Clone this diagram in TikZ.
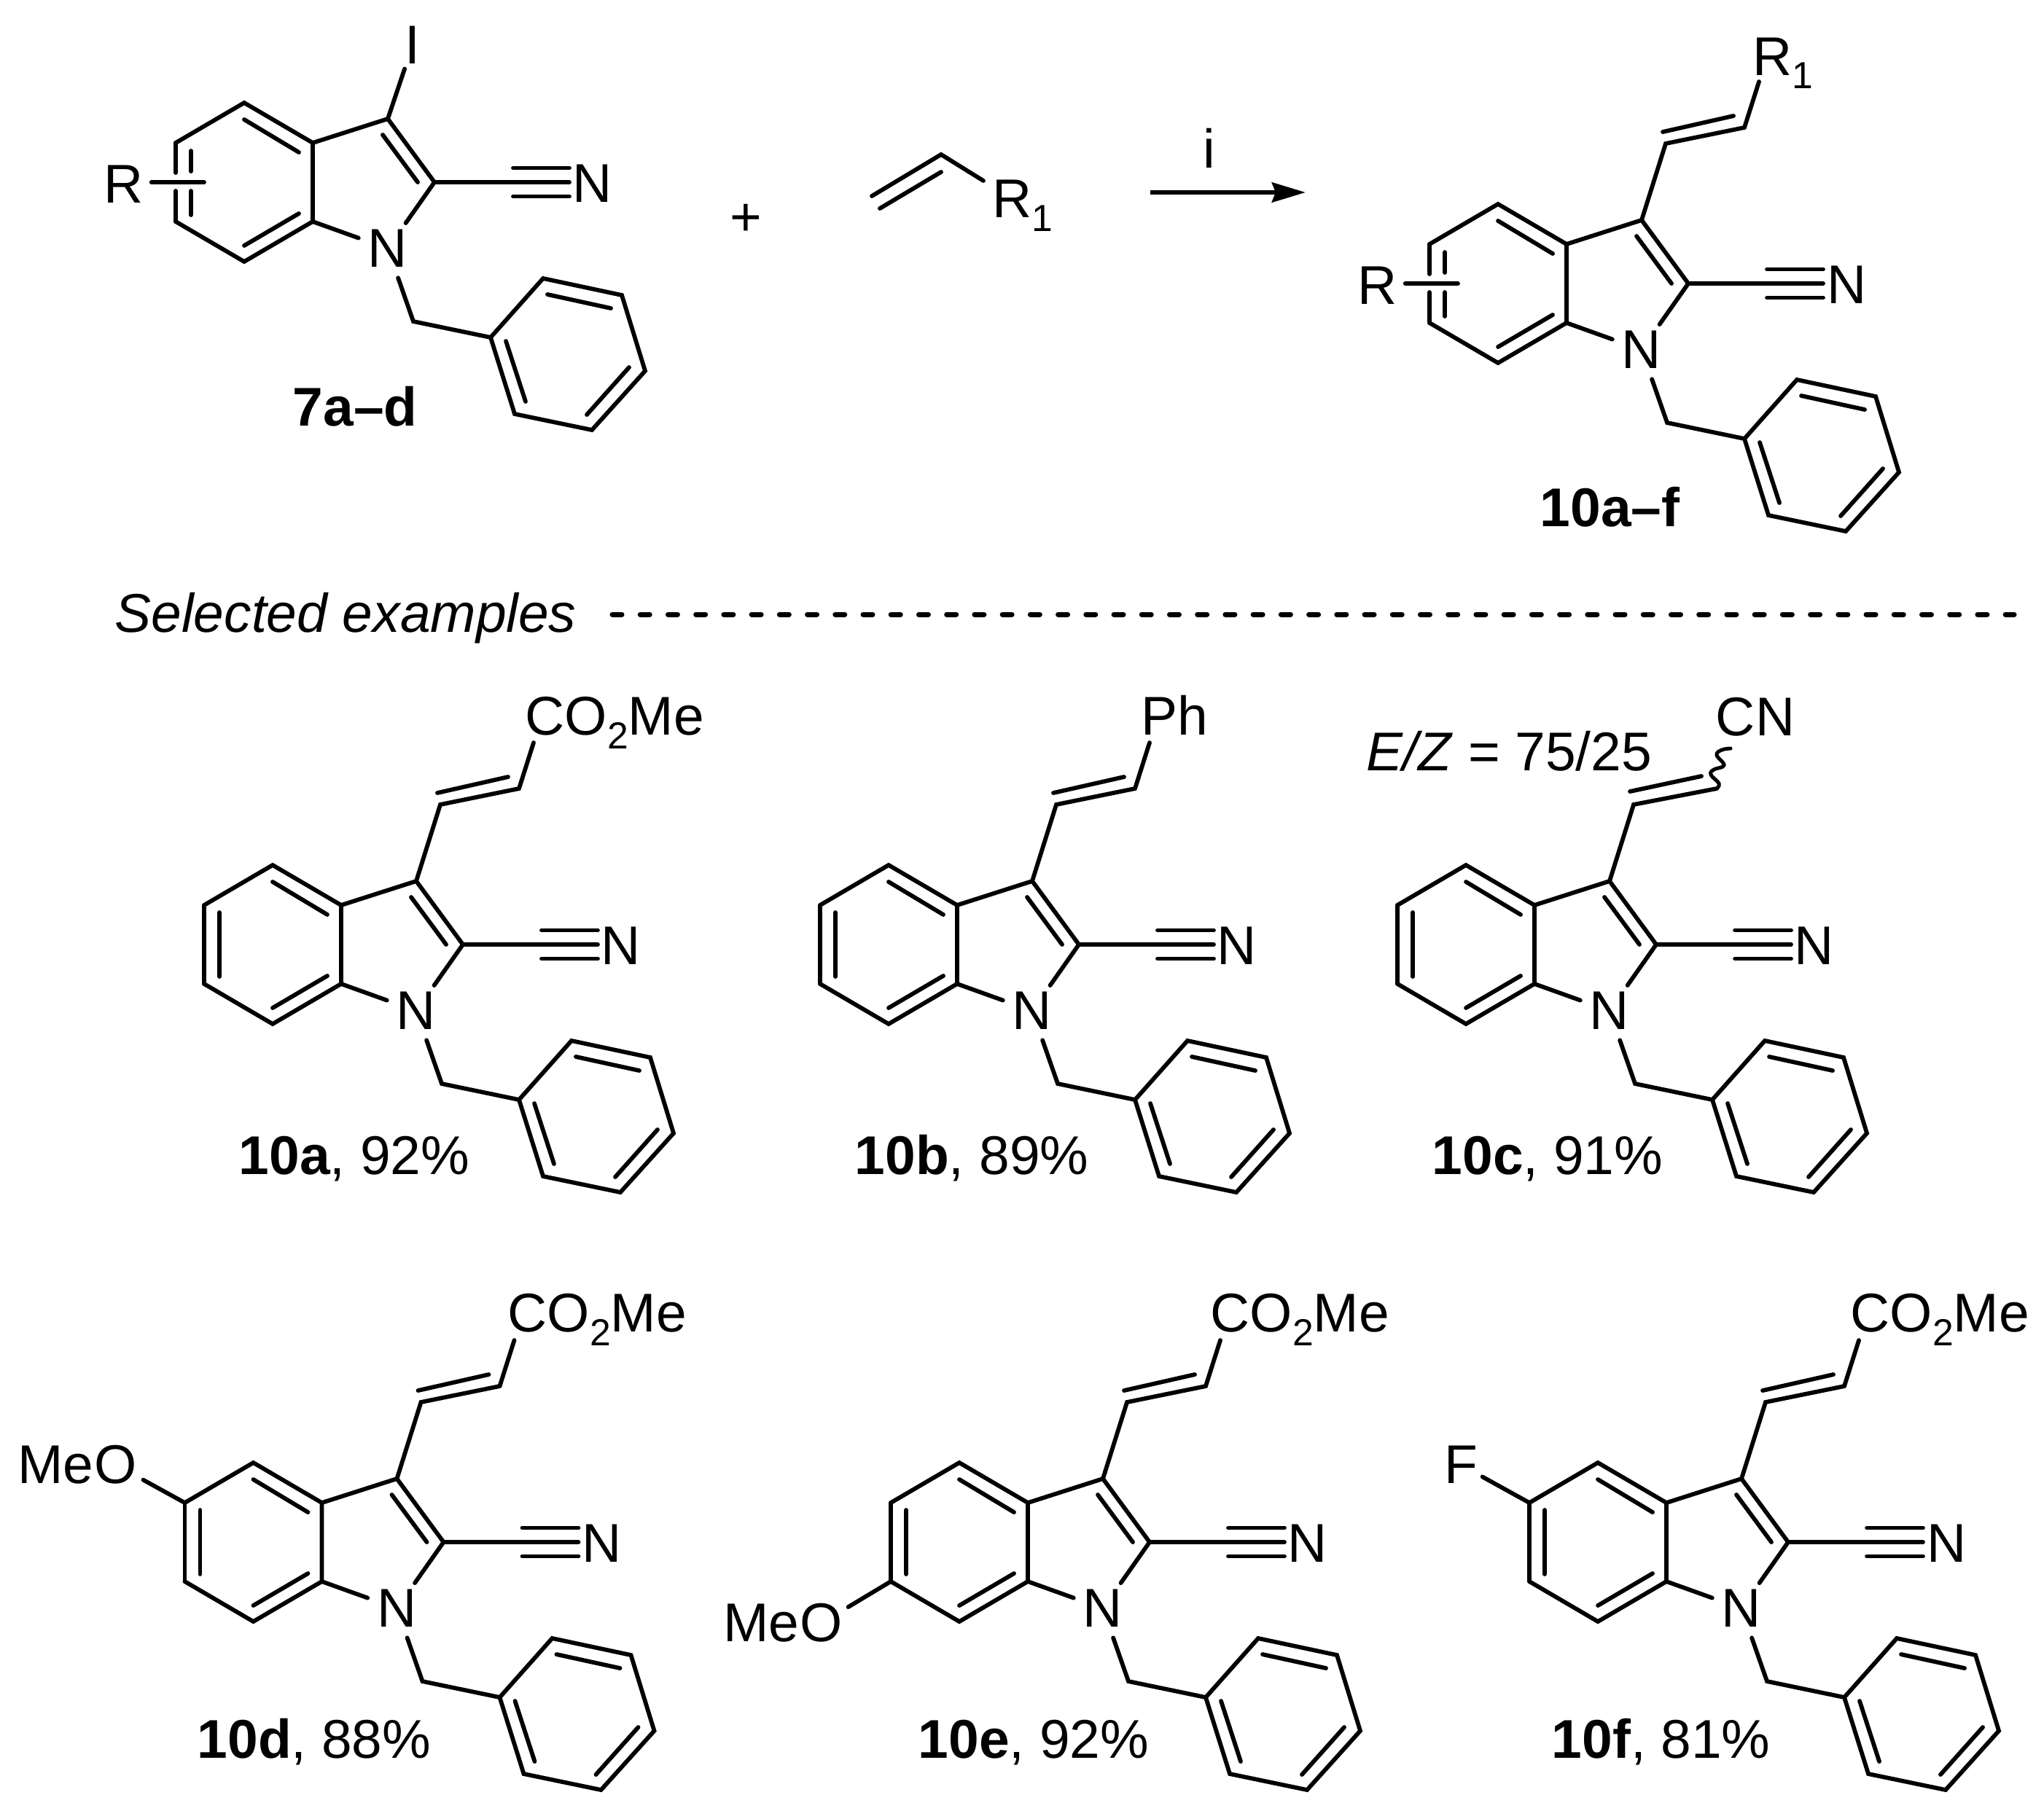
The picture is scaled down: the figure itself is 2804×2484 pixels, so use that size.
\documentclass[tikz,border=0pt]{standalone}
\usepackage{fontspec}
\setmainfont{Liberation Sans}
\usetikzlibrary{positioning,calc,arrows.meta}
\newcommand{\subs}[1]{\raisebox{-5.4pt}{\fontsize{14.7}{16}\selectfont #1}}
\tikzstyle{bond} = [draw, line width=0.58mm, line cap=round, line join=miter]
\tikzstyle{atom} = [circle, inner sep=0pt, minimum size=0.84cm]
\tikzstyle{lab} = [inner sep=0.06cm]
\tikzstyle{txt} = [inner sep=0pt, anchor=base west]
\tikzstyle{dashline} = [draw, line width=0.7mm, line cap=round, dash pattern=on 1.3mm off 2.52mm]
\tikzstyle{line} = [draw, line width=0.65mm, -{Stealth[length=4.6mm, width=2.7mm, inset=0.5mm]}]
\tikzset{
   indole/.pic={
      % Ring atoms
      \coordinate (c3a) at (94,-54);
      \coordinate (c4) at (0,-109);
      \coordinate (c5) at (-94,-54);
      \coordinate (c6) at (-94,54);
      \coordinate (c7) at (0,109);
      \coordinate (c7a) at (94,54);
      \coordinate (c3) at (197,-87);
      \coordinate (c2) at (261,0);
      \coordinate (ch2) at (232,191);
      \node[atom] (n1) at (197,91) {N};
      \node[lab] (n2) at (478,2) {N};
      % Phenyl atoms
      \coordinate (p1) at (338,213);
      \coordinate (p2) at (410,132);
      \coordinate (p3) at (518,155);
      \coordinate (p4) at (550,259);
      \coordinate (p5) at (477,340);
      \coordinate (p6) at (371,318);
      % Skeleton
      \path [bond] (c6) -- (c7) -- (c7a) -- (c3a) -- (c4) -- (c5);
      \path [bond] (c3a) -- (c3) -- (c2);
      \path [bond] (c7a) -- (n1);
      \path [bond] (c2) -- (n1);
      \path [bond] (n1) -- (ch2) -- (p1);
      \path [bond] (p1) -- (p2) -- (p3) -- (p4) -- (p5) -- (p6) -- cycle;
      % Inner lines
      \path [bond] (0,-86) -- (75,-41);
      \path [bond] (75,43) -- (0,87);
      \path [bond] (190,-65) -- (238,0);
      \path [bond] (416,154) -- (503,173);
      \path [bond] (528,254) -- (470,319);
      \path [bond] (386,301) -- (359,218);
      % Nitrile
      \coordinate (cn) at (446,0);
      \path [bond] (c2) -- (cn);
      \path [bond] (369,-19.5) -- (446,-19.5);
      \path [bond] (369,19.5) -- (446,19.5);
   },
   leftside/.pic={
      \path [bond] (c5) -- (c6);
      \path [bond] (-73,-44) -- (-73,44);
   },
   brokenside/.pic={
      \node[lab, inner xsep=0.1cm] (r) at (-165,3) {R};
      \coordinate (rend) at (-55,0);
      \path [bond] (r.east |- rend) -- (rend);
      \path [bond] (c5) -- (-94,-13);
      \path [bond] (-94,12) -- (c6);
      \path [bond] (-73,-43) -- (-73,-15);
      \path [bond] (-73,12) -- (-73,45);
   },
   vinyl/.pic={
      \coordinate (v1) at (230,-192);
      \coordinate (v2) at (338,-214);
      \coordinate (vend) at (358,-277);
      \path [bond] (c3) -- (v1) -- (v2);
      \path [bond] (226,-208) -- (323,-230);
   }
}

\begin{document}
\begin{tikzpicture}[x=0.01cm, y=-0.01cm, font=\fontsize{21.3}{26}\selectfont]
   \useasboundingbox (0,0) rectangle (2804,2484);

   % REACTION %%%%%%%%%%%%%%%%%%%%%%%%%%%%%%%%%%%%%%%%%%%%%%%%%%
   \pic (s-) at (335,250) {indole};
   \pic (s-) at (335,250) {brokenside};
   \node[lab] (iodo) at (566,62) {I};
   \path [bond] (s-c3) -- (iodo);
   \node[txt] (name7) at (401,584) {\textbf{7a--d}};

   \node (plus) at (1023,302) {+};

   % Alkene
   \coordinate (vi1) at (1196,269);
   \coordinate (vi2) at (1291,212);
   \coordinate (vi3) at (1349,248);
   \coordinate (vi4) at (1207,286);
   \coordinate (vi5) at (1291,236);
   \path [bond] (vi1) -- (vi2) -- (vi3);
   \path [bond] (vi4) -- (vi5);
   \node[txt] (alkener) at (1361,298) {R\subs{1}};

   % Arrow
   \node (reagent) at (1659,203) {i};
   \coordinate (arrowstart) at (1578,264);
   \coordinate (arrowend) at (1791,264);
   \path [line] (arrowstart) -- (arrowend);

   \pic (p-) at (2055,389) {indole};
   \pic (p-) at (2055,389) {brokenside};
   \pic (p-) at (2055,389) {vinyl};
   \path [bond] (p-v2) -- (p-vend);
   \node[txt] (productr) at (2404,103) {R\subs{1}};
   \node[txt] (name10) at (2112,722) {\textbf{10a--f}};

   % SEPARATOR %%%%%%%%%%%%%%%%%%%%%%%%%%%%%%%%%%%%%%%%%%%%%%%%%%
   \node[txt] (selected) at (157,867) {\textit{Selected examples}};
   \coordinate (dashstart) at (840,843);
   \coordinate (dashend) at (2763,843);
   \path [dashline] (dashstart) -- (dashend);

   % FIRST ROW %%%%%%%%%%%%%%%%%%%%%%%%%%%%%%%%%%%%%%%%%%%%%%%%%%
   \pic (a-) at (374,1296) {indole};
   \pic (a-) at (374,1296) {leftside};
   \pic (a-) at (374,1296) {vinyl};
   \path [bond] (a-v2) -- (a-vend);
   \node[txt] (a-ester) at (720,1008) {CO\subs{2}Me};
   \node[txt] (a-name) at (327,1611) {\textbf{10a}, 92\%};

   \pic (b-) at (1219,1296) {indole};
   \pic (b-) at (1219,1296) {leftside};
   \pic (b-) at (1219,1296) {vinyl};
   \path [bond] (b-v2) -- (b-vend);
   \node[txt] (b-ph) at (1565,1008) {Ph};
   \node[txt] (b-name) at (1172,1611) {\textbf{10b}, 89\%};

   \pic (c-) at (2011,1296) {indole};
   \pic (c-) at (2011,1296) {leftside};
   \coordinate (c-v1) at (2241,1104);
   \coordinate (c-v2) at (2355,1082);
   \coordinate (c-wave) at (2374,1027);
   \path [bond] (c-c3) -- (c-v1) -- (c-v2);
   \path [bond] (2236,1086) -- (2334,1065);
   % Wavy bond
   \draw [line width=0.5mm, line cap=round] plot [smooth, tension=0.7] coordinates
      {(c-v2) (2358,1075) (2347,1063) (2351,1056) (2365,1050) (2355,1036) (2362,1029) (c-wave)};
   \node (c-cn) at (2408,984) {CN};
   \node[txt] (c-ratio) at (1874,1057) {\textit{E/Z} = 75/25};
   \node[txt] (c-name) at (1964,1611) {\textbf{10c}, 91\%};

   % SECOND ROW %%%%%%%%%%%%%%%%%%%%%%%%%%%%%%%%%%%%%%%%%%%%%%%%%%
   \pic (d-) at (347.5,2116) {indole};
   \pic (d-) at (347.5,2116) {leftside};
   \pic (d-) at (347.5,2116) {vinyl};
   \path [bond] (d-v2) -- (d-vend);
   \node[txt] (d-ester) at (696,1827) {CO\subs{2}Me};
   \node[atom] (d-o) at (159,2010) {O};
   \node[txt, anchor=base east, xshift=-0.3cm] (d-me) at (d-o.base) {Me};
   \path [bond] (d-c5) -- (d-o);
   \node[txt] (d-name) at (270,2412) {\textbf{10d}, 88\%};

   \pic (e-) at (1316,2116) {indole};
   \pic (e-) at (1316,2116) {leftside};
   \pic (e-) at (1316,2116) {vinyl};
   \path [bond] (e-v2) -- (e-vend);
   \node[txt] (e-ester) at (1660,1827) {CO\subs{2}Me};
   \node[atom] (e-o) at (1127,2227) {O};
   \node[txt, anchor=base east, xshift=-0.3cm] (e-me) at (e-o.base) {Me};
   \path [bond] (e-c6) -- (e-o);
   \node[txt] (e-name) at (1259,2412) {\textbf{10e}, 92\%};

   \pic (f-) at (2192,2116) {indole};
   \pic (f-) at (2192,2116) {leftside};
   \pic (f-) at (2192,2116) {vinyl};
   \path [bond] (f-v2) -- (f-vend);
   \node[txt] (f-ester) at (2538,1827) {CO\subs{2}Me};
   \node[lab] (f-f) at (2004,2010) {F};
   \path [bond] (f-c5) -- (f-f);
   \node[txt] (f-name) at (2128,2412) {\textbf{10f}, 81\%};
\end{tikzpicture}
\end{document}
